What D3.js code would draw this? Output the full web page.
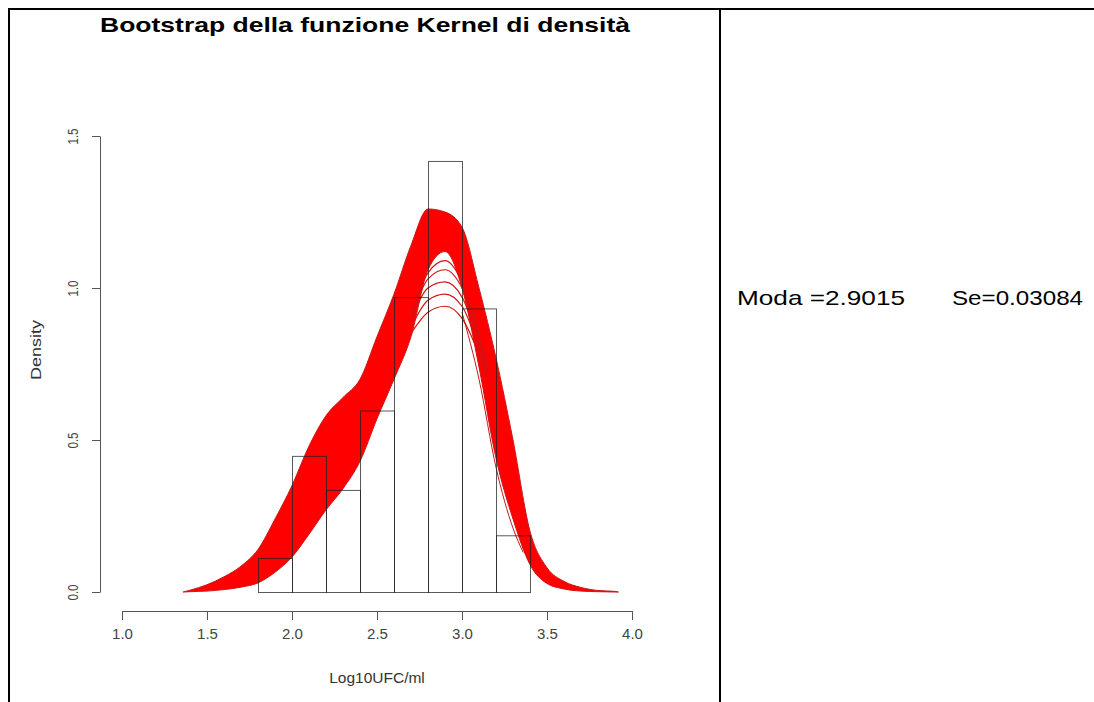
<!DOCTYPE html>
<html>
<head>
<meta charset="utf-8">
<script src="https://cdn.jsdelivr.net/npm/d3@7"></script>
<style>
  body { margin: 0; background: #fff; }
  svg { display: block; font-family: "Liberation Sans", Arial, sans-serif; }
</style>
</head>
<body>
<svg id="chart" width="1094" height="702"></svg>
<script>
// histogram: bin edges and counts (n = 134)
const binEdges = [1.8, 2.0, 2.2, 2.4, 2.6, 2.8, 3.0, 3.2, 3.4];
const binCounts = [3, 12, 9, 16, 26, 38, 25, 5];

// bootstrap kernel density curves: envelope of the red band
const gridX = [1.36, 1.4, 1.5, 1.6, 1.7, 1.8, 1.9, 2.0, 2.1, 2.2, 2.3, 2.4, 2.5, 2.6, 2.7, 2.8, 2.9, 3.0, 3.1, 3.2, 3.3, 3.4, 3.5, 3.6, 3.7, 3.8, 3.9, 3.92];
const upperDens = [0, 0.006, 0.024, 0.05, 0.085, 0.14, 0.24, 0.35, 0.48, 0.58, 0.64, 0.70, 0.84, 0.98, 1.14, 1.26, 1.25, 1.20, 1.00, 0.77, 0.50, 0.20, 0.08, 0.035, 0.015, 0.005, 0.002, 0];
const denseLower = [0, 0.001, 0.003, 0.008, 0.016, 0.03, 0.065, 0.115, 0.19, 0.27, 0.34, 0.43, 0.57, 0.70, 0.84, 1.06, 1.12, 1.00, 0.74, 0.44, 0.24, 0.09, 0.028, 0.01, 0.003, 0.001, 0, 0];

// single curves visible below the dense band around the mode
const arcX = [2.7, 2.8, 2.9, 3.0, 3.1, 3.15];
const arcCurves = [
  [0.85, 0.92, 0.94, 0.90, 0.78, 0.70],
  [0.87, 0.96, 0.98, 0.94, 0.80, 0.71],
  [0.89, 1.00, 1.02, 0.97, 0.82, 0.72],
  [0.90, 1.03, 1.06, 1.00, 0.84, 0.73],
  [0.91, 1.05, 1.09, 1.02, 0.85, 0.74]
];
// a stray curve left of the falling side
const strayX = [3.0, 3.1, 3.2, 3.3, 3.36];
const strayDens = [0.92, 0.70, 0.41, 0.21, 0.13];

const xTicks = [1.0, 1.5, 2.0, 2.5, 3.0, 3.5, 4.0];
const yTicks = [0.0, 0.5, 1.0, 1.5];

const title = "Bootstrap della funzione Kernel di densità";
const xLabel = "Log10UFC/ml";
const yLabel = "Density";
const modaText = "Moda =2.9015";
const seText = "Se=0.03084";

const svg = d3.select("#chart");
const n = d3.sum(binCounts);

const x = d3.scaleLinear().domain([1, 4]).range([122, 632]);
const y = d3.scaleLinear().domain([0, 1.5]).range([592, 136]);

// table frame
const frame = svg.append("g").attr("stroke", "#000").attr("stroke-width", 2);
frame.append("line").attr("x1", 8).attr("x2", 1094).attr("y1", 9).attr("y2", 9);
frame.append("line").attr("x1", 9).attr("x2", 9).attr("y1", 8).attr("y2", 702);
frame.append("line").attr("x1", 720).attr("x2", 720).attr("y1", 8).attr("y2", 702);

// title
svg.append("text")
    .attr("x", 100).attr("y", 32)
    .attr("font-size", 21).attr("font-weight", "bold")
    .attr("textLength", 530).attr("lengthAdjust", "spacingAndGlyphs")
    .attr("fill", "#000")
    .text(title);

// red band of curves
const bandData = gridX.map((v, i) => ({ x: v, hi: upperDens[i], lo: denseLower[i] }));
const area = d3.area()
    .x(d => x(d.x)).y0(d => y(d.lo)).y1(d => y(d.hi))
    .curve(d3.curveMonotoneX);
svg.append("path").datum(bandData)
    .attr("d", area)
    .attr("fill", "#ff0000");

const line = d3.line().x(d => x(d[0])).y(d => y(d[1])).curve(d3.curveMonotoneX);
svg.append("path").datum(gridX.map((v, i) => [v, upperDens[i]]))
    .attr("d", line).attr("fill", "none")
    .attr("stroke", "#c41a1a").attr("stroke-width", 1);
svg.append("path").datum(gridX.map((v, i) => [v, denseLower[i]]))
    .attr("d", line).attr("fill", "none")
    .attr("stroke", "#d01515").attr("stroke-width", 1);

svg.append("g").selectAll("path")
    .data(arcCurves)
    .join("path")
    .attr("d", c => line(arcX.map((v, i) => [v, c[i]])))
    .attr("fill", "none")
    .attr("stroke", "#d81010")
    .attr("stroke-width", 1.2);
svg.append("path").datum(strayX.map((v, i) => [v, strayDens[i]]))
    .attr("d", line).attr("fill", "none")
    .attr("stroke", "#c81818").attr("stroke-width", 1);

// histogram outlines
svg.append("g").selectAll("rect")
    .data(binCounts)
    .join("rect")
    .attr("x", (d, i) => x(binEdges[i]) + 0.5)
    .attr("width", (d, i) => x(binEdges[i + 1]) - x(binEdges[i]))
    .attr("y", d => y(d / (n * 0.2)) + 0.5)
    .attr("height", d => y(0) - y(d / (n * 0.2)))
    .attr("fill", "none")
    .attr("stroke", "#222")
    .attr("stroke-opacity", 0.75)
    .attr("stroke-width", 1);

// axes
const axisColor = "#555";
const xAxis = svg.append("g")
    .attr("transform", "translate(0,611)")
    .call(d3.axisBottom(x).tickValues(xTicks).tickFormat(d3.format(".1f")).tickSize(9).tickSizeOuter(0).tickPadding(8));
const yAxis = svg.append("g")
    .attr("transform", "translate(100,0)")
    .call(d3.axisLeft(y).tickValues(yTicks).tickFormat(d3.format(".1f")).tickSize(8).tickSizeOuter(0).tickPadding(14));

[xAxis, yAxis].forEach(a => {
    a.select(".domain").attr("stroke", axisColor);
    a.selectAll(".tick line").attr("stroke", axisColor);
    a.selectAll(".tick text")
        .attr("fill", "#444")
        .attr("font-family", "'Liberation Sans', Arial, sans-serif");
});
xAxis.selectAll(".tick text").attr("font-size", 15);
yAxis.selectAll(".tick text")
    .attr("font-size", 14)
    .attr("textLength", 16).attr("lengthAdjust", "spacingAndGlyphs")
    .attr("text-anchor", "middle")
    .attr("dy", null)
    .attr("x", null)
    .attr("transform", "translate(-26,0) rotate(-90)")
    .attr("dominant-baseline", "middle");

svg.append("text")
    .attr("x", 377).attr("y", 683)
    .attr("text-anchor", "middle")
    .attr("font-size", 15.5).attr("fill", "#333")
    .text(xLabel);

svg.append("text")
    .attr("transform", "translate(41,350) rotate(-90)")
    .attr("text-anchor", "middle")
    .attr("font-size", 14).attr("fill", "#333")
    .attr("textLength", 60).attr("lengthAdjust", "spacingAndGlyphs")
    .text(yLabel);

// summary text in the right cell
svg.append("text")
    .attr("x", 737).attr("y", 305)
    .attr("font-size", 21).attr("fill", "#000")
    .attr("textLength", 168).attr("lengthAdjust", "spacingAndGlyphs")
    .text(modaText);
svg.append("text")
    .attr("x", 952).attr("y", 305)
    .attr("font-size", 21).attr("fill", "#000")
    .attr("textLength", 131).attr("lengthAdjust", "spacingAndGlyphs")
    .text(seText);
</script>
</body>
</html>
